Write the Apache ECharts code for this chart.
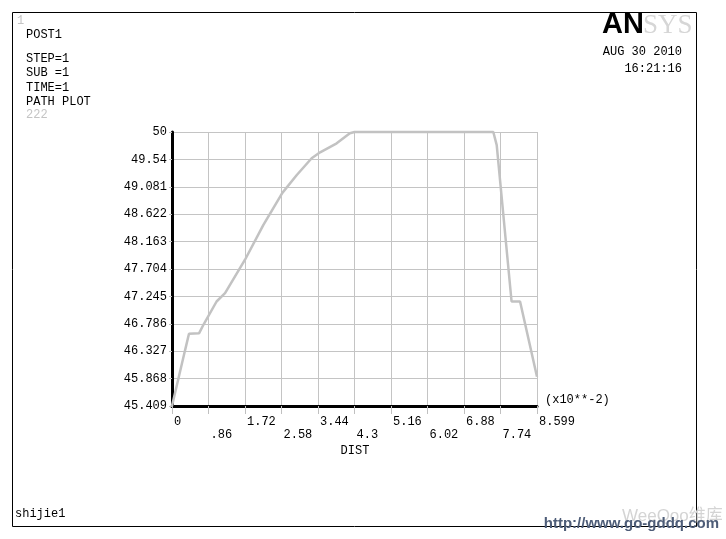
<!DOCTYPE html>
<html>
<head>
<meta charset="utf-8">
<script src="https://cdn.jsdelivr.net/npm/echarts@6/dist/echarts.min.js"></script>
<style>
html,body{margin:0;padding:0;background:#fff;}
#chart{width:726px;height:539px;}
</style>
</head>
<body>
<div id="chart"></div>
<script>
// ---- data ----
const distX = [0, 0.31, 0.40, 0.64, 0.74, 1.05, 1.25, 1.72, 2.15, 2.60, 2.94, 3.29, 3.49, 3.88, 4.19, 4.30, 7.57, 7.65, 8.00, 8.20, 8.599];
const valueY = [45.409, 46.35, 46.62, 46.63, 46.77, 47.16, 47.30, 47.86, 48.44, 48.98, 49.28, 49.56, 49.66, 49.81, 49.98, 50.0, 50.0, 49.78, 47.16, 47.16, 45.90];
const xTickLabels = ['0', '.86', '1.72', '2.58', '3.44', '4.3', '5.16', '6.02', '6.88', '7.74', '8.599'];
const yTickLabels = ['45.409', '45.868', '46.327', '46.786', '47.245', '47.704', '48.163', '48.622', '49.081', '49.54', '50'];
const infoLines = ['POST1', 'STEP=1', 'SUB =1', 'TIME=1', 'PATH PLOT'];

const xMin = 0, xMax = 8.599, xStep = xMax / 10;
const yMin = 45.409, yMax = 50, yStep = (yMax - yMin) / 10;
const MONO = '"Liberation Mono", "DejaVu Sans Mono", monospace';

const seriesData = distX.map((x, i) => [x, valueY[i]]);

const chart = echarts.init(document.getElementById('chart'), null, {renderer: 'canvas'});

const graphics = [
  {type: 'rect', shape: {x: 12.5, y: 12.5, width: 684, height: 514}, style: {fill: 'none', stroke: '#000', lineWidth: 1}, z: 1},
  {type: 'text', left: 17, top: 15, style: {text: '1', font: '12px ' + MONO, fill: '#c4c4c4'}},
  {type: 'text', left: 26, top: 109, style: {text: '222', font: '12px ' + MONO, fill: '#c4c4c4'}},
  {type: 'text', x: 602, y: 25, style: {text: 'AN', font: 'bold 29px "Liberation Sans", Arial, sans-serif', fill: '#000', verticalAlign: 'middle', align: 'left'}},
  {type: 'text', x: 643, y: 26, style: {text: 'SYS', font: '27px "Liberation Serif", serif', fill: '#d6d6d6', verticalAlign: 'middle', align: 'left'}},
  {type: 'text', x: 682, y: 52, style: {text: 'AUG 30 2010', font: '12px ' + MONO, fill: '#000', align: 'right', verticalAlign: 'middle'}},
  {type: 'text', x: 682, y: 69, style: {text: '16:21:16', font: '12px ' + MONO, fill: '#000', align: 'right', verticalAlign: 'middle'}},
  {type: 'text', x: 545, y: 400, style: {text: '(x10**-2)', font: '12px ' + MONO, fill: '#000', align: 'left', verticalAlign: 'middle'}},
  {type: 'text', x: 355, y: 451, style: {text: 'DIST', font: '12px ' + MONO, fill: '#000', align: 'center', verticalAlign: 'middle'}},
  {type: 'text', x: 15, y: 514, style: {text: 'shijie1', font: '12px ' + MONO, fill: '#000', align: 'left', verticalAlign: 'middle'}},
  {type: 'text', x: 622, y: 516, style: {text: 'WeeQoo维库', font: '17px "Liberation Sans", "Noto Sans CJK SC", sans-serif', fill: '#d4d4d4', align: 'left', verticalAlign: 'middle'}, z: 5},
  {type: 'text', x: 719, y: 524, style: {text: 'http://www.go-gddq.com', font: 'bold 15px "Liberation Sans Narrow", "Liberation Sans", sans-serif', fill: '#4e5d78', align: 'right', verticalAlign: 'middle'}, z: 6}
];
infoLines.forEach((t, i) => {
  const yy = [35, 59, 73, 88, 102][i];
  graphics.push({type: 'text', x: 26, y: yy, style: {text: t, font: '12px ' + MONO, fill: '#000', align: 'left', verticalAlign: 'middle'}});
});

chart.setOption({
  backgroundColor: '#fff',
  animation: false,
  grid: {left: 172, top: 132, width: 365, height: 274, containLabel: false},
  xAxis: {
    type: 'value', min: xMin, max: xMax, interval: xStep,
    axisLine: {show: true, onZero: false, lineStyle: {color: '#000', width: 3}},
    axisTick: {show: true, inside: false, length: 8, lineStyle: {color: '#c0c0c0', width: 1}},
    splitLine: {show: true, lineStyle: {color: '#c4c4c4', width: 1}},
    axisLabel: {
      show: true, margin: 9, color: '#000', fontFamily: MONO, fontSize: 12, lineHeight: 13,
      align: 'left', padding: [0, 0, 0, 2], showMinLabel: true, showMaxLabel: true,
      formatter: function (v) {
        const idx = Math.round((v - xMin) / xStep);
        const lab = xTickLabels[idx] !== undefined ? xTickLabels[idx] : '';
        return idx % 2 === 1 ? '\n' + lab : lab;
      }
    }
  },
  yAxis: {
    type: 'value', min: yMin, max: yMax, interval: yStep,
    axisLine: {show: true, onZero: false, lineStyle: {color: '#000', width: 3}},
    axisTick: {show: true, length: 3, lineStyle: {color: '#c0c0c0', width: 1}},
    splitLine: {show: true, lineStyle: {color: '#c4c4c4', width: 1}},
    axisLabel: {
      show: true, margin: 5, color: '#000', fontFamily: MONO, fontSize: 12,
      padding: [0, 0, 4, 0], showMinLabel: true, showMaxLabel: true,
      formatter: function (v) {
        const idx = Math.round((v - yMin) / yStep);
        return yTickLabels[idx] !== undefined ? yTickLabels[idx] : '';
      }
    }
  },
  series: [{
    type: 'line', data: seriesData, showSymbol: false, symbol: 'none', smooth: false,
    lineStyle: {color: '#c2c2c2', width: 2.5}, z: 3, clip: false
  }],
  graphic: graphics
});
</script>
</body>
</html>
